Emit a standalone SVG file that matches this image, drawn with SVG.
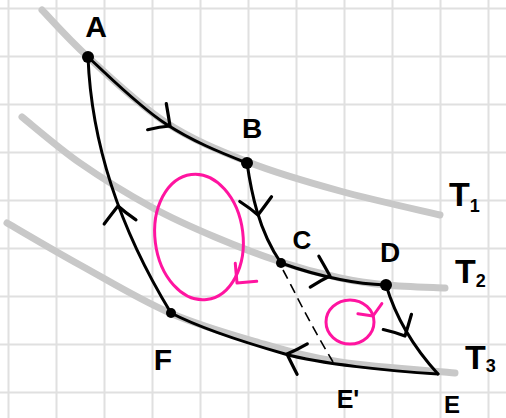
<svg xmlns="http://www.w3.org/2000/svg" width="506" height="418" viewBox="0 0 506 418">
<style>
.grid{stroke:#e0e0e0;stroke-width:2;fill:none}
.iso{stroke:#c8c8c8;stroke-width:7;fill:none;stroke-linecap:round}
.edge{stroke:#000;stroke-width:3;fill:none;stroke-linecap:round}
.dash{stroke:#000;stroke-width:1.6;fill:none;stroke-dasharray:10 6}
.head{stroke:#000;stroke-width:3.2;fill:none;stroke-linecap:round;stroke-linejoin:round}
.mag{stroke:#ff14a0;stroke-width:3;fill:none;stroke-linecap:round;stroke-linejoin:round}
.lbl{font-family:"Liberation Sans",Arial,sans-serif;font-weight:bold;fill:#000;text-anchor:middle}
.tl{font-family:"Liberation Sans",Arial,sans-serif;font-weight:bold;fill:#000;font-size:34px}
</style>
<defs>
<path id="chev" d="M-15,-17 Q-6,-7 0,0 Q-8,6 -17,15"/>
<path id="mchev" d="M-14,-14 L0,0 L-14,14"/>
<path id="schev" d="M-8,-13 L0,0 L-8,13"/>
</defs>
<rect width="506" height="418" fill="#fff"/>
<g id="grid" class="grid">
<path d="M8.5,0V418M56.5,0V418M104.5,0V418M152.5,0V418M200.5,0V418M248.5,0V418M296.5,0V418M344.5,0V418M392.5,0V418M440.5,0V418M488.5,0V418"/>
<path d="M0,8.5H506M0,56.5H506M0,104.5H506M0,152.5H506M0,200.5H506M0,248.5H506M0,296.5H506M0,344.5H506M0,392.5H506"/>
</g>
<g id="isotherms" class="iso">
<path id="isoT1" d="M42,10 C49.7,17.8 67.5,38.3 88,57 C108.5,75.7 138.3,104.5 165,122 C191.7,139.5 218.8,150.5 248,162 C277.2,173.5 308,182.2 340,191 C372,199.8 423.3,211 440,215"/>
<path id="isoT2" d="M22,117 C31.7,124.7 58.2,147.8 80,163 C101.8,178.2 130.5,195.7 153,208 C175.5,220.3 193.7,228 215,237 C236.3,246 260.2,255.2 281,262 C301.8,268.8 322.5,274.2 340,278 C357.5,281.8 368.5,283.3 386,285 C403.5,286.7 435.2,287.5 445,288"/>
<path id="isoT3" d="M7,223 C19.2,230 52.8,250 80,265 C107.2,280 140,300 170,313 C200,326 231.7,334.8 260,343 C288.3,351.2 307.5,357 340,362 C372.5,367 435.8,371.2 455,373"/>
</g>
<g id="connectors">
<path id="AB" class="edge" d="M88,57 C108.5,75.7 138.3,106 166,124 C192,141 219,152 247,163"/>
<path id="BC" class="edge" d="M247,163 C251,190 258,230 281,263"/>
<path id="CD" class="edge" d="M281,263 C301.8,270.5 322.5,276 340,279.5 C357.5,283 368.5,284.3 386,285"/>
<path id="DE" class="edge" d="M386,285 C392,305 405,338 438,374"/>
<path id="EF" class="edge" d="M438,374 C390,371 320,364 285,354 C250,344 200,328 171,313"/>
<path id="FA" class="edge" d="M171,313 Q93,185 88,57"/>
<path id="CEp" class="dash" d="M283,270 C295,292 305,315 333,362"/>
<use href="#chev" class="head" transform="translate(170,126) rotate(32)"/>
<use href="#chev" class="head" transform="translate(258,215) rotate(78)"/>
<use href="#chev" class="head" transform="translate(330,276) rotate(12)"/>
<use href="#chev" class="head" transform="translate(405,336) rotate(58)"/>
<use href="#chev" class="head" transform="translate(287,354) rotate(195)"/>
<use href="#chev" class="head" transform="translate(118,206) rotate(-101)"/>
</g>
<g id="cycle-big">
<ellipse class="mag" cx="199" cy="237" rx="44" ry="63" transform="rotate(-7 199 237)"/>
<use href="#mchev" class="mag" transform="translate(237,283) rotate(130)"/>
</g>
<g id="cycle-small">
<ellipse class="mag" cx="350" cy="322" rx="24" ry="22"/>
<use href="#schev" class="mag" transform="translate(373,316) rotate(67)"/>
</g>
<g id="A"><circle cx="88" cy="57" r="6"/><text class="lbl" x="96" y="37" font-size="30">A</text></g>
<g id="B"><circle cx="247" cy="163" r="6"/><text class="lbl" x="252" y="138" font-size="28">B</text></g>
<g id="C"><circle cx="281" cy="263" r="5"/><text class="lbl" x="302" y="249" font-size="26">C</text></g>
<g id="D"><circle cx="386" cy="285" r="6"/><text class="lbl" x="390" y="262" font-size="28">D</text></g>
<g id="E"><text class="lbl" x="452" y="413" font-size="24">E</text></g>
<g id="Eprime"><text class="lbl" x="348" y="408" font-size="25">E'</text></g>
<g id="F"><circle cx="171" cy="313" r="5"/><text class="lbl" x="163" y="370" font-size="30">F</text></g>
<g id="T1"><text class="tl" x="449" y="206">T<tspan font-size="18" dy="6">1</tspan></text></g>
<g id="T2"><text class="tl" x="455" y="283">T<tspan font-size="18" dy="4">2</tspan></text></g>
<g id="T3"><text class="tl" x="465" y="369">T<tspan font-size="18" dy="3">3</tspan></text></g>
</svg>
